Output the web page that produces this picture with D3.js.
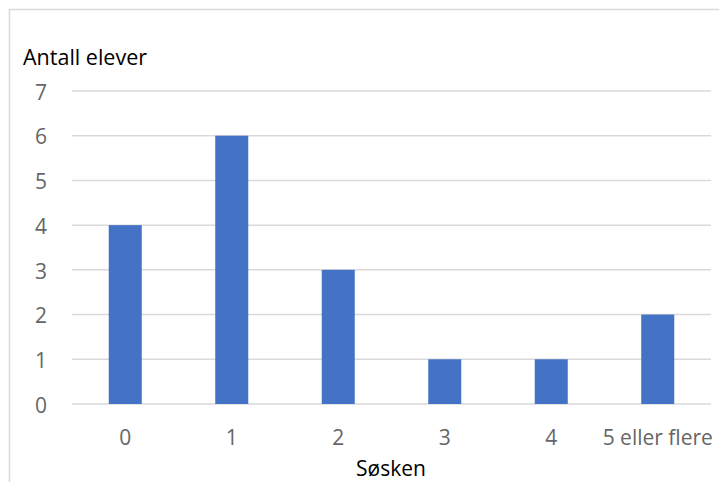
<!DOCTYPE html>
<html>
<head>
<meta charset="utf-8">
<script src="https://cdn.jsdelivr.net/npm/d3@7"></script>
<style>
  html, body { margin: 0; padding: 0; background: #fff; }
  svg { display: block; }
  text { font-family: "Open Sans", "Noto Sans", sans-serif; }
</style>
</head>
<body>
<div id="chart"></div>
<script>
// Antall søsken per elev
const categories = ["0", "1", "2", "3", "4", "5 eller flere"];
const values = [4, 6, 3, 1, 1, 2];
const yTicks = [0, 1, 2, 3, 4, 5, 6, 7];

const W = 719, H = 482;
const margin = { left: 72, right: 8, top: 91, bottom: 78 };
const font = '"Open Sans", "Noto Sans", sans-serif';

const svg = d3.select("#chart").append("svg")
  .attr("width", W).attr("height", H);

// chart frame
svg.append("rect")
  .attr("x", 9.5).attr("y", 9.5)
  .attr("width", W + 20).attr("height", H + 20)
  .attr("fill", "none").attr("stroke", "#d9d9d9").attr("stroke-width", 1.5);

const x = d3.scaleBand()
  .domain(categories)
  .range([margin.left, W - margin.right])
  .paddingInner(0.69).paddingOuter(0.345);

const y = d3.scaleLinear()
  .domain([0, 7])
  .range([H - margin.bottom, margin.top]);

// gridlines
svg.append("g")
  .selectAll("line")
  .data(yTicks)
  .join("line")
  .attr("x1", margin.left).attr("x2", W - margin.right)
  .attr("y1", d => y(d)).attr("y2", d => y(d))
  .attr("stroke", "#d9d9d9").attr("stroke-width", 1.5);

// y axis labels
const yAxis = d3.axisLeft(y).tickValues(yTicks).tickFormat(d3.format("d"))
  .tickSize(0).tickPadding(0);
const gy = svg.append("g").attr("transform", "translate(47,1.5)").call(yAxis);
gy.select(".domain").remove();
gy.selectAll("text")
  .attr("text-anchor", "end")
  .attr("font-size", 21).attr("fill", "#666666")
  .style("font-family", font);

// bars
svg.append("g")
  .selectAll("rect")
  .data(values)
  .join("rect")
  .attr("x", (d, i) => x(categories[i]))
  .attr("width", x.bandwidth())
  .attr("y", d => y(d))
  .attr("height", d => y(0) - y(d))
  .attr("fill", "#4472c4");

// x axis labels
const xAxis = d3.axisBottom(x).tickSize(0).tickPadding(0);
const gx = svg.append("g").attr("transform", `translate(0,${y(0) + 34})`).call(xAxis);
gx.select(".domain").remove();
gx.selectAll("text")
  .attr("dy", "0.35em")
  .attr("font-size", 21).attr("fill", "#666666")
  .style("font-family", font);

// axis titles
svg.append("text")
  .attr("x", 23).attr("y", 65)
  .attr("font-size", 21.5).attr("fill", "#000")
  .text("Antall elever");

svg.append("text")
  .attr("x", 391).attr("y", 476)
  .attr("text-anchor", "middle")
  .attr("font-size", 21).attr("fill", "#000")
  .text("Søsken");
</script>
</body>
</html>
